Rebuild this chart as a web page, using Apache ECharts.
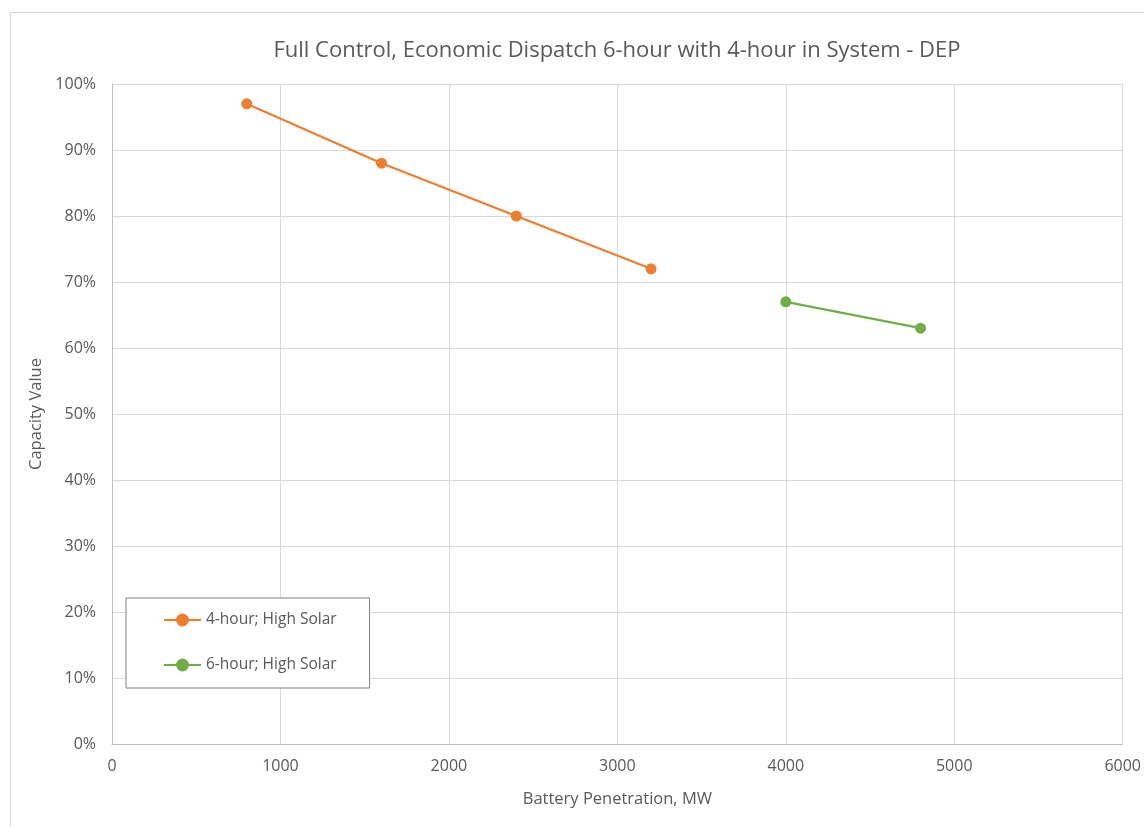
<!DOCTYPE html>
<html>
<head>
<meta charset="utf-8">
<script src="https://cdn.jsdelivr.net/npm/echarts@6/dist/echarts.min.js"></script>
<style>
  html, body { margin: 0; padding: 0; background: #fff; }
  #frame { position: absolute; left: 10px; top: 12px; width: 1140px; height: 820px; border: 1px solid #d9d9d9; box-sizing: border-box; }
  #chart { position: absolute; left: 0; top: 0; width: 1144px; height: 827px; }
</style>
</head>
<body>
<div id="frame"></div>
<div id="chart"></div>
<script>
// Battery penetration (MW) and capacity value (fraction) per storage duration
const penetration4h = [800, 1600, 2400, 3200];
const capacity4h = [0.97, 0.88, 0.80, 0.72];
const penetration6h = [4000, 4800];
const capacity6h = [0.67, 0.63];
const seriesNames = ['4-hour; High Solar', '6-hour; High Solar'];
const titleText = 'Full Control, Economic Dispatch 6-hour with 4-hour in System - DEP';

const font = '"Open Sans", "Noto Sans", sans-serif';
const textGray = '#595959';

const chart = echarts.init(document.getElementById('chart'), null, { renderer: 'canvas' });
chart.setOption({
  animation: false,
  title: {
    text: titleText,
    left: 612, top: 35, textAlign: 'center',
    textStyle: { fontFamily: font, fontSize: 22, fontWeight: 'normal', color: textGray }
  },
  grid: { left: 112, right: 21, top: 84, bottom: 83 },
  legend: {
    orient: 'vertical',
    left: 126, top: 598,
    padding: [14, 33, 15, 37],
    itemGap: 29,
    itemWidth: 37, itemHeight: 16,
    borderColor: '#7f7f7f', borderWidth: 1,
    backgroundColor: '#fff',
    textStyle: { fontFamily: font, fontSize: 15.5, color: textGray },
    data: seriesNames
  },
  xAxis: {
    type: 'value', min: 0, max: 6000, interval: 1000,
    name: 'Battery Penetration, MW', nameLocation: 'middle', nameGap: 47,
    nameTextStyle: { fontFamily: font, fontSize: 16.5, color: textGray },
    axisLine: { show: true, lineStyle: { color: '#bfbfbf' } },
    axisTick: { show: false },
    axisLabel: { fontFamily: font, fontSize: 16, color: textGray, margin: 14,
      formatter: v => String(v) },
    splitLine: { show: true, lineStyle: { color: '#d9d9d9' } }
  },
  yAxis: {
    type: 'value', min: 0, max: 1, interval: 0.1,
    name: 'Capacity Value', nameLocation: 'middle', nameGap: 67,
    nameTextStyle: { fontFamily: font, fontSize: 16.5, color: textGray },
    axisLine: { show: true, lineStyle: { color: '#bfbfbf' } },
    axisTick: { show: false },
    axisLabel: { fontFamily: font, fontSize: 16, color: textGray, margin: 16,
      formatter: v => Math.round(v * 100) + '%' },
    splitLine: { show: true, lineStyle: { color: '#d9d9d9' } }
  },
  series: [
    {
      name: seriesNames[0], type: 'line',
      data: penetration4h.map((x, i) => [x, capacity4h[i]]),
      symbol: 'circle', symbolSize: 11,
      lineStyle: { color: '#ed7d31', width: 2.25 },
      itemStyle: { color: '#ed7d31' }
    },
    {
      name: seriesNames[1], type: 'line',
      data: penetration6h.map((x, i) => [x, capacity6h[i]]),
      symbol: 'circle', symbolSize: 11,
      lineStyle: { color: '#70ad47', width: 2.25 },
      itemStyle: { color: '#70ad47' }
    }
  ]
});
</script>
</body>
</html>
